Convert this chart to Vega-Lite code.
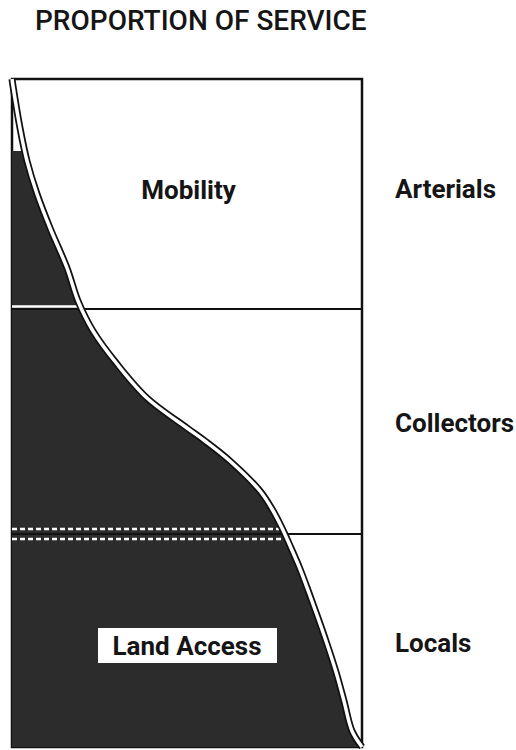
{
  "$schema": "https://vega.github.io/schema/vega-lite/v6.json",
  "autosize": {"type": "none"},
  "width": 350,
  "height": 668,
  "padding": {"left": 12, "top": 79, "right": 154, "bottom": 3},
  "background": "white",
  "config": {"view": {"stroke": "#111", "strokeWidth": 2.5}},
  "datasets": {
    "curve": [
      {"s": 0, "d": 0}, {"s": 1, "d": 7}, {"s": 8, "d": 49}, {"s": 15, "d": 82},
      {"s": 25, "d": 115}, {"s": 38, "d": 149}, {"s": 55, "d": 189}, {"s": 66, "d": 222},
      {"s": 81, "d": 252}, {"s": 105, "d": 285}, {"s": 135, "d": 319}, {"s": 175, "d": 349},
      {"s": 193, "d": 362}, {"s": 218, "d": 382}, {"s": 248, "d": 412}, {"s": 260, "d": 430},
      {"s": 270, "d": 449}, {"s": 279, "d": 469}, {"s": 288, "d": 490}, {"s": 297, "d": 514},
      {"s": 306, "d": 539}, {"s": 315, "d": 565}, {"s": 324, "d": 593}, {"s": 332, "d": 622},
      {"s": 340, "d": 652}, {"s": 350, "d": 668}
    ],
    "fill": [
      {"s": 13, "d": 72}, {"s": 15, "d": 82},
      {"s": 25, "d": 115}, {"s": 38, "d": 149}, {"s": 55, "d": 189}, {"s": 66, "d": 222},
      {"s": 81, "d": 252}, {"s": 105, "d": 285}, {"s": 135, "d": 319}, {"s": 175, "d": 349},
      {"s": 193, "d": 362}, {"s": 218, "d": 382}, {"s": 248, "d": 412}, {"s": 260, "d": 430},
      {"s": 270, "d": 449}, {"s": 279, "d": 469}, {"s": 288, "d": 490}, {"s": 297, "d": 514},
      {"s": 306, "d": 539}, {"s": 315, "d": 565}, {"s": 324, "d": 593}, {"s": 332, "d": 622},
      {"s": 340, "d": 652}, {"s": 350, "d": 668}
    ],
    "blackRules": [{"d": 230, "a": 0, "b": 350}, {"d": 455, "a": 0, "b": 350}],
    "whiteRules": [{"d": 227.5, "a": 0, "b": 66}],
    "dashedRules": [{"d": 450, "a": 0, "b": 267}, {"d": 460, "a": 0, "b": 272}],
    "box": [{"a": 86, "b": 265, "top": 549, "bottom": 584}],
    "titleText": [{"label": "PROPORTION OF SERVICE", "s": 23, "d": -49}],
    "centerLabels": [
      {"label": "Mobility", "s": 176.5, "d": 120}
    ],
    "boxLabel": [
      {"label": "Land Access", "s": 175, "d": 576}
    ],
    "sideLabels": [
      {"label": "Arterials", "s": 383, "d": 119},
      {"label": "Collectors", "s": 383, "d": 353},
      {"label": "Locals", "s": 383, "d": 573}
    ]
  },
  "encoding": {
    "x": {"field": "s", "type": "quantitative", "scale": {"domain": [0, 350]}, "axis": null},
    "y": {"field": "d", "type": "quantitative", "scale": {"domain": [0, 668], "reverse": true}, "axis": null}
  },
  "layer": [
    {
      "data": {"name": "fill"},
      "mark": {"type": "area", "orient": "horizontal", "interpolate": "catmull-rom", "color": "#2c2c2c"},
      "encoding": {"x2": {"datum": 0}}
    },
    {
      "data": {"name": "blackRules"},
      "mark": {"type": "rule", "color": "#111", "strokeWidth": 2},
      "encoding": {"x": {"field": "a", "type": "quantitative"}, "x2": {"field": "b"}}
    },
    {
      "data": {"name": "whiteRules"},
      "mark": {"type": "rule", "color": "white", "strokeWidth": 2.5},
      "encoding": {"x": {"field": "a", "type": "quantitative"}, "x2": {"field": "b"}}
    },
    {
      "data": {"name": "dashedRules"},
      "mark": {"type": "rule", "color": "white", "strokeWidth": 2.5, "strokeDash": [5, 3]},
      "encoding": {"x": {"field": "a", "type": "quantitative"}, "x2": {"field": "b"}}
    },
    {
      "data": {"name": "curve"},
      "mark": {"type": "line", "interpolate": "catmull-rom", "color": "#111", "strokeWidth": 7},
      "encoding": {"order": {"field": "d", "type": "quantitative"}}
    },
    {
      "data": {"name": "curve"},
      "mark": {"type": "line", "interpolate": "catmull-rom", "color": "white", "strokeWidth": 3.5},
      "encoding": {"order": {"field": "d", "type": "quantitative"}}
    },
    {
      "data": {"name": "box"},
      "mark": {"type": "rect", "color": "white"},
      "encoding": {
        "x": {"field": "a", "type": "quantitative"},
        "x2": {"field": "b"},
        "y": {"field": "top", "type": "quantitative"},
        "y2": {"field": "bottom"}
      }
    },
    {
      "data": {"name": "titleText"},
      "mark": {"type": "text", "align": "left", "baseline": "alphabetic", "font": "Roboto", "fontSize": 28, "fontWeight": 500, "color": "#151515"},
      "encoding": {"text": {"field": "label"}}
    },
    {
      "data": {"name": "centerLabels"},
      "mark": {"type": "text", "align": "center", "baseline": "alphabetic", "font": "Roboto", "fontSize": 26, "fontWeight": "bold", "color": "#151515"},
      "encoding": {"text": {"field": "label"}}
    },
    {
      "data": {"name": "boxLabel"},
      "mark": {"type": "text", "align": "center", "baseline": "alphabetic", "font": "Roboto", "fontSize": 26, "fontWeight": "bold", "color": "#151515"},
      "encoding": {"text": {"field": "label"}}
    },
    {
      "data": {"name": "sideLabels"},
      "mark": {"type": "text", "align": "left", "baseline": "alphabetic", "font": "Roboto", "fontSize": 26, "fontWeight": "bold", "color": "#151515"},
      "encoding": {"text": {"field": "label"}}
    }
  ]
}
